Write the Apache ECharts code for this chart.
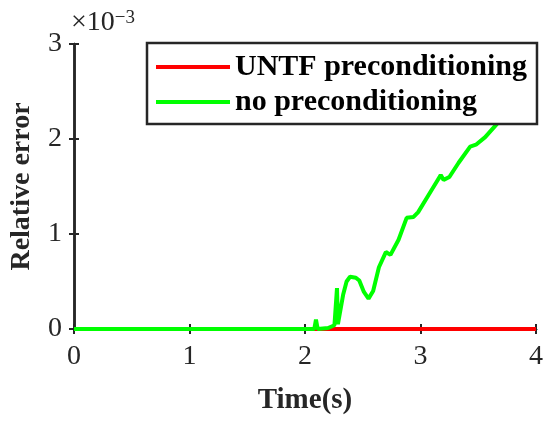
<!DOCTYPE html>
<html>
<head>
<meta charset="utf-8">
<script src="https://cdn.jsdelivr.net/npm/echarts@6/dist/echarts.min.js"></script>
<style>
  html, body { margin: 0; padding: 0; background: #fff; }
  #chart { width: 550px; height: 422px; }
</style>
</head>
<body>
<div id="chart"></div>
<script>
// values are in units of 1e-3 (see the x10^-3 label)
const xTicks = [0, 1, 2, 3, 4];
const yTicks = [0, 1, 2, 3];

const untfData = [
    [0, 0], [4, 0]
];

const noPrecData = [
    [0, 0], [2.08, 0], [2.095, 0.1], [2.11, 0], [2.2, 0.01], [2.255, 0.04],
    [2.27, 0.05], [2.277, 0.43], [2.285, 0.05], [2.30, 0.07], [2.33, 0.36],
    [2.36, 0.5], [2.39, 0.55], [2.44, 0.54], [2.47, 0.51], [2.51, 0.39],
    [2.55, 0.32], [2.59, 0.4], [2.64, 0.65], [2.70, 0.81], [2.74, 0.78],
    [2.81, 0.94], [2.88, 1.17], [2.94, 1.18], [2.98, 1.23], [3.07, 1.41],
    [3.14, 1.55], [3.175, 1.62], [3.2, 1.57], [3.25, 1.6], [3.33, 1.75],
    [3.43, 1.92], [3.48, 1.94], [3.56, 2.02], [3.67, 2.17], [3.8, 2.32],
    [4.0, 2.55]
];

const seriesNames = ['UNTF preconditioning', 'no preconditioning'];

let chart = echarts.init(document.getElementById('chart'));

const axisColor = '#262626';
const tickFont = { fontFamily: 'Liberation Serif', fontSize: 28, color: axisColor };

const option = {
    animation: false,
    backgroundColor: '#fff',
    grid: { left: 69, right: 14, top: 44, bottom: 93 },
    legend: {
        data: seriesNames,
        orient: 'vertical',
        left: 147,
        top: 43,
        z: 10,
        icon: 'rect',
        itemWidth: 74,
        itemHeight: 4,
        itemGap: 5,
        padding: [9, 10, 7, 9],
        backgroundColor: '#fff',
        borderColor: axisColor,
        borderWidth: 2.5,
        borderRadius: 0,
        textStyle: {
            fontFamily: 'Liberation Serif',
            fontWeight: 'bold',
            fontSize: 30,
            color: '#000'
        }
    },
    xAxis: [
        {
            type: 'value',
            min: 0, max: 4, interval: 1,
            name: 'Time(s)',
            nameLocation: 'middle',
            nameGap: 57,
            nameTextStyle: { fontFamily: 'Liberation Serif', fontWeight: 'bold', fontSize: 29, color: axisColor },
            axisLine: { lineStyle: { color: axisColor, width: 2.5 } },
            axisTick: { inside: true, length: 5, lineStyle: { color: axisColor, width: 2 } },
            axisLabel: Object.assign({ margin: 14, formatter: v => xTicks.includes(v) ? String(v) : '' }, tickFont),
            splitLine: { show: false }
        },
        {
            type: 'value',
            position: 'top',
            min: 0, max: 4, interval: 1,
            axisLine: { lineStyle: { color: axisColor, width: 2.5 } },
            axisTick: { inside: true, length: 5, lineStyle: { color: axisColor, width: 2 } },
            axisLabel: { show: false },
            splitLine: { show: false }
        }
    ],
    yAxis: [
        {
            type: 'value',
            min: 0, max: 3, interval: 1,
            name: 'Relative error',
            nameLocation: 'middle',
            nameGap: 38,
            nameTextStyle: { fontFamily: 'Liberation Serif', fontWeight: 'bold', fontSize: 28, color: axisColor },
            axisLine: { show: true, lineStyle: { color: axisColor, width: 2.5 } },
            axisTick: { show: true, inside: true, length: 5, lineStyle: { color: axisColor, width: 2 } },
            axisLabel: Object.assign({ margin: 12, formatter: v => yTicks.includes(v) ? String(v) : '' }, tickFont),
            splitLine: { show: false }
        },
        {
            type: 'value',
            position: 'right',
            min: 0, max: 3, interval: 1,
            axisLine: { show: true, lineStyle: { color: axisColor, width: 2.5 } },
            axisTick: { show: true, inside: true, length: 5, lineStyle: { color: axisColor, width: 2 } },
            axisLabel: { show: false },
            splitLine: { show: false }
        }
    ],
    graphic: [
        {
            type: 'text',
            left: 71,
            top: 9,
            style: {
                text: '{a|×10}{b|−3}',
                rich: {
                    a: { fontFamily: 'Liberation Serif', fontSize: 28, fill: axisColor, verticalAlign: 'bottom' },
                    b: { fontFamily: 'Liberation Serif', fontSize: 19, fill: axisColor, verticalAlign: 'top' }
                }
            }
        }
    ],
    series: [
        {
            name: seriesNames[0],
            type: 'line',
            data: untfData,
            showSymbol: false,
            clip: false,
            z: 2,
            itemStyle: { color: '#ff0000' },
            lineStyle: { color: '#ff0000', width: 4 }
        },
        {
            name: seriesNames[1],
            type: 'line',
            data: noPrecData,
            showSymbol: false,
            clip: false,
            z: 3,
            itemStyle: { color: '#00ff00' },
            lineStyle: { color: '#00ff00', width: 4 }
        }
    ]
};

chart.setOption(option);
</script>
</body>
</html>
